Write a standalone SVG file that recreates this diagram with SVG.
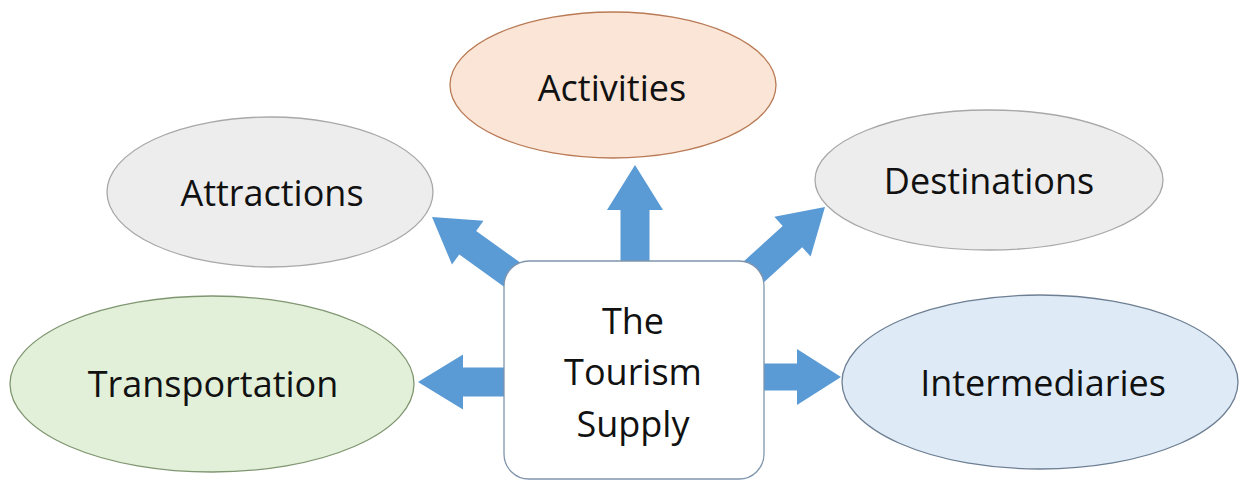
<svg xmlns="http://www.w3.org/2000/svg" width="1247" height="482" viewBox="0 0 1247 482">
<style>
text{font-family:"Open Sans","Liberation Sans",sans-serif;font-size:36px;fill:#111;text-anchor:middle}
.arr{fill:#5b9bd5}
</style>
<rect width="1247" height="482" fill="#fff"/>
<g id="connectors">
<path class="arr" transform="translate(635,165) rotate(-90)" d="M0,0 L-45,-28 L-45,-14.5 L-110,-14.5 L-110,14.5 L-45,14.5 L-45,28 Z"/>
<path class="arr" transform="translate(418,382) rotate(180)" d="M0,0 L-45,-27.5 L-45,-14.5 L-100,-14.5 L-100,14.5 L-45,14.5 L-45,27.5 Z"/>
<path class="arr" transform="translate(841,377) rotate(0)" d="M0,0 L-44,-28 L-44,-13.5 L-95,-13.5 L-95,13.5 L-44,13.5 L-44,28 Z"/>
<path class="arr" transform="translate(432,217) rotate(215.7)" d="M0,0 L-44,-27 L-44,-14.5 L-120,-14.5 L-120,14.5 L-44,14.5 L-44,27 Z"/>
<path class="arr" transform="translate(825,207) rotate(-42.3)" d="M0,0 L-44,-27 L-44,-14.5 L-120,-14.5 L-120,14.5 L-44,14.5 L-44,27 Z"/>
</g>
<g id="activities"><ellipse cx="613" cy="85" rx="163" ry="73" fill="#fbe5d6" stroke="#b97a55" stroke-width="1.3"/><text x="612" y="101">Activities</text></g>
<g id="attractions"><ellipse cx="270" cy="192" rx="163" ry="75" fill="#ededed" stroke="#a8a8a8" stroke-width="1.3"/><text x="272" y="206">Attractions</text></g>
<g id="destinations"><ellipse cx="989" cy="180" rx="174" ry="70" fill="#ededed" stroke="#a8a8a8" stroke-width="1.3"/><text x="989" y="194">Destinations</text></g>
<g id="transportation"><ellipse cx="212" cy="384" rx="202" ry="88" fill="#e2f0d9" stroke="#7f9670" stroke-width="1.3"/><text x="213" y="397">Transportation</text></g>
<g id="intermediaries"><ellipse cx="1040" cy="382" rx="198" ry="87" fill="#deebf7" stroke="#6e7f93" stroke-width="1.3"/><text x="1043" y="396">Intermediaries</text></g>
<g id="center"><rect x="504" y="261" width="260" height="218" rx="25" fill="#fff" stroke="#7f95ad" stroke-width="1.3"/>
<text x="633" y="334">The</text><text x="633" y="385">Tourism</text><text x="633" y="437">Supply</text></g>
</svg>
